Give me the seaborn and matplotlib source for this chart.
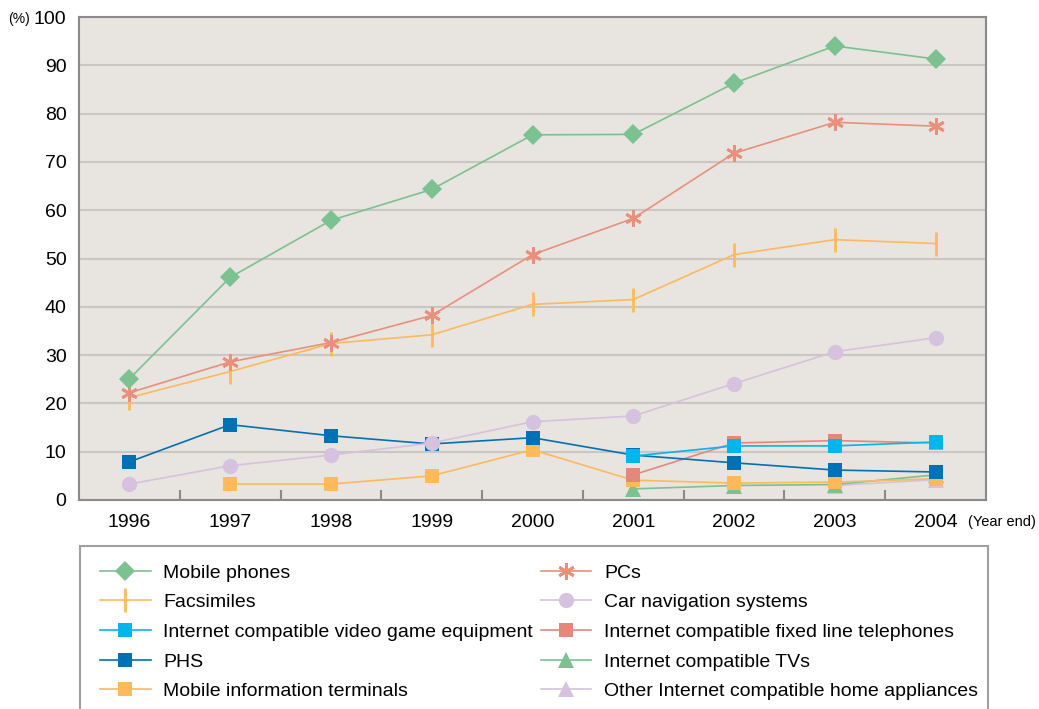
import seaborn as sns
import pandas as pd
import matplotlib.pyplot as plt
from matplotlib.patches import Rectangle
from matplotlib.lines import Line2D

years = [1996, 1997, 1998, 1999, 2000, 2001, 2002, 2003, 2004]

mobile_phones = [25.1, 46.1, 57.9, 64.3, 75.6, 75.7, 86.3, 94.0, 91.3]
pcs = [22.2, 28.6, 32.6, 38.2, 50.8, 58.3, 71.8, 78.2, 77.4]
facsimiles = [21.2, 26.6, 32.4, 34.2, 40.5, 41.5, 50.8, 53.9, 53.1]
car_navi = [3.3, 7.1, 9.3, 11.8, 16.2, 17.4, 24.1, 30.7, 33.6]
phs = [7.9, 15.6, 13.3, 11.6, 12.9, 9.3, 7.7, 6.2, 5.8]
mobile_terminals = [None, 3.3, 3.3, 5.0, 10.4, 4.1, 3.5, 3.7, 4.4]
game_equipment = [None, None, None, None, None, 9.1, 11.2, 11.2, 12.0]
fixed_phones = [None, None, None, None, None, 5.2, 11.8, 12.3, 11.8]
tvs = [None, None, None, None, None, 2.3, 3.0, 3.2, 5.2]
other_appliances = [None, None, None, None, None, None, None, 3.0, 4.2]

series = [
    # name, values, color, marker, size  (drawn bottom -> top)
    ("Other Internet compatible home appliances", other_appliances, "#d6c2de", "^", 11),
    ("Internet compatible TVs", tvs, "#7cc190", "^", 11),
    ("Mobile information terminals", mobile_terminals, "#fdb95a", "s", 10),
    ("Internet compatible fixed line telephones", fixed_phones, "#e4897a", "s", 10),
    ("PHS", phs, "#0071b5", "s", 10),
    ("Car navigation systems", car_navi, "#d6c2de", "o", 11),
    ("Internet compatible video game equipment", game_equipment, "#00b6ec", "s", 10),
    ("Facsimiles", facsimiles, "#fdb95a", "|", 17),
    ("PCs", pcs, "#e8907c", (6, 2, 0), 12),
    ("Mobile phones", mobile_phones, "#7cc190", "D", 10),
]

legend_order = [
    "Mobile phones", "Facsimiles", "Internet compatible video game equipment",
    "PHS", "Mobile information terminals", "PCs", "Car navigation systems",
    "Internet compatible fixed line telephones", "Internet compatible TVs",
    "Other Internet compatible home appliances",
]

plt.rcParams['font.family'] = ['Liberation Sans', 'DejaVu Sans']

fig = plt.figure(figsize=(10.39, 7.09), dpi=100)
ax = fig.add_axes([79 / 1039, 1 - 500 / 709, (986 - 79) / 1039, (500 - 17) / 709])
ax.set_facecolor("#e8e4e0")

handles = {}
for name, vals, color, marker, size in series:
    df = pd.DataFrame({"year": years, "value": vals}).dropna()
    mew = 2 if marker in ("|", (6, 2, 0)) else 0
    sns.lineplot(data=df, x="year", y="value", ax=ax, color=color, lw=1.2,
                 marker=marker, markersize=size, markeredgewidth=mew,
                 markeredgecolor=color, markerfacecolor=color, clip_on=False)
    handles[name] = Line2D([], [], color=color, lw=1.2, marker=marker, markersize=size,
                           markeredgewidth=mew, markeredgecolor=color, markerfacecolor=color)

ax.set_xlim(1995.5, 2004.5)
ax.set_ylim(0, 100)
ax.set_yticks(range(0, 101, 10))
ax.set_xticks(years)
ax.set_xticks([y + 0.5 for y in years[:-1]], minor=True)
ax.tick_params(axis="y", length=0, labelsize=14, pad=9)
ax.tick_params(axis="x", which="major", length=0, labelsize=14, pad=10)
ax.tick_params(axis="x", which="minor", direction="in", length=7, width=1.5, color="#8a8a8a")
ax.set_xlabel("")
ax.set_ylabel("")
ax.grid(axis="y", color="#c9c6c4", lw=1.5)
ax.set_axisbelow(True)
for sp in ax.spines.values():
    sp.set_color("#8a8a8a")
    sp.set_linewidth(1.5)

fig.text(30 / 1039, 1 - 19 / 709, "(%)", fontsize=10, ha="right", va="center")
fig.text(968 / 1039, 1 - 522 / 709, "(Year end)", fontsize=10.5, ha="left", va="center")

# legend box
fig.patches.append(Rectangle((80 / 1039, -0.02), (988 - 80) / 1039, (709 - 546) / 709 + 0.02,
                             transform=fig.transFigure, fill=False, edgecolor="#a0a0a0", lw=1.5))
fig.legend([handles[n] for n in legend_order], legend_order, ncol=2, frameon=False,
           loc="upper left", bbox_to_anchor=(100 / 1039, 1 - 564 / 709),
           borderpad=0, borderaxespad=0, fontsize=14, labelspacing=0.62,
           handlelength=2.6, handletextpad=0.65, columnspacing=0.4)

fig.savefig("out.png", dpi=100)
